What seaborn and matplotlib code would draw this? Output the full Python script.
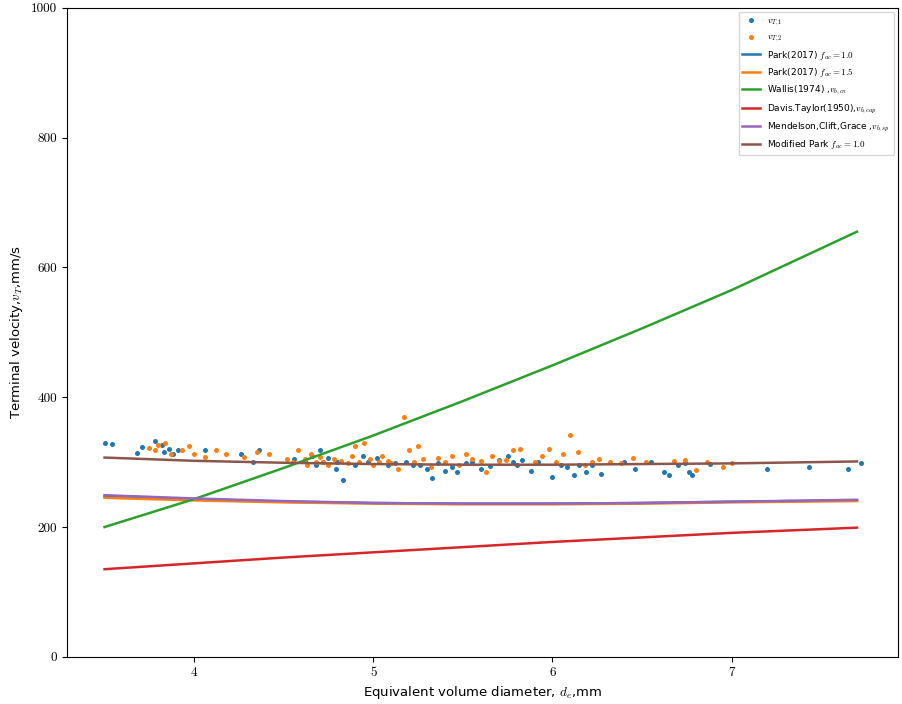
import numpy as np
import pandas as pd
import matplotlib
matplotlib.use("Agg")
import matplotlib.pyplot as plt
import seaborn as sns

d_v1 = [3.50, 3.54, 3.68, 3.71, 3.78, 3.82, 3.83, 3.86, 3.88, 3.91, 4.06, 4.26, 4.33, 4.36,
        4.56, 4.62, 4.66, 4.68, 4.70, 4.72, 4.75, 4.79, 4.80, 4.83, 4.90, 4.94, 4.97, 5.02,
        5.08, 5.12, 5.18, 5.22, 5.26, 5.30, 5.33, 5.36, 5.40, 5.44, 5.47, 5.52, 5.55, 5.60,
        5.65, 5.70, 5.75, 5.78, 5.80, 5.83, 5.88, 5.92, 6.00, 6.05, 6.08, 6.12, 6.15, 6.19,
        6.22, 6.27, 6.40, 6.46, 6.55, 6.62, 6.65, 6.70, 6.74, 6.76, 6.78, 6.88, 7.20, 7.43,
        7.65, 7.72]
v_t1 = [330, 328, 314, 323, 332, 326, 316, 320, 313, 318, 318, 312, 300, 318,
        305, 302, 310, 296, 318, 300, 306, 290, 300, 272, 295, 310, 300, 306,
        295, 298, 300, 295, 296, 290, 275, 298, 286, 292, 284, 298, 300, 290,
        294, 304, 310, 300, 296, 304, 286, 300, 277, 296, 292, 280, 296, 285,
        295, 282, 300, 290, 300, 285, 280, 295, 298, 285, 280, 297, 290, 292,
        290, 298]

d_v2 = [3.75, 3.78, 3.80, 3.84, 3.87, 3.93, 3.97, 4.00, 4.06, 4.12, 4.18, 4.28, 4.35, 4.42,
        4.52, 4.55, 4.58, 4.62, 4.63, 4.65, 4.68, 4.70, 4.72, 4.75, 4.78, 4.82, 4.86, 4.88,
        4.90, 4.92, 4.95, 4.98, 5.00, 5.03, 5.05, 5.08, 5.10, 5.14, 5.17, 5.20, 5.23, 5.25,
        5.28, 5.32, 5.36, 5.40, 5.44, 5.48, 5.52, 5.55, 5.60, 5.63, 5.66, 5.70, 5.74, 5.78,
        5.82, 5.90, 5.94, 5.98, 6.02, 6.06, 6.10, 6.14, 6.18, 6.22, 6.26, 6.32, 6.38, 6.45,
        6.52, 6.68, 6.74, 6.80, 6.86, 6.95, 7.00]
v_t2 = [322, 318, 326, 330, 313, 318, 325, 312, 308, 318, 312, 308, 316, 312,
        305, 300, 318, 305, 295, 312, 300, 308, 300, 295, 305, 302, 298, 310,
        325, 300, 330, 305, 295, 300, 310, 302, 298, 290, 370, 318, 300, 325,
        305, 292, 306, 300, 310, 295, 312, 305, 302, 285, 310, 302, 304, 318,
        320, 300, 310, 320, 300, 312, 342, 315, 296, 300, 305, 300, 298, 306,
        300, 302, 304, 288, 300, 292, 298]

# model curves
d_model = [3.5, 4.0, 4.5, 5.0, 5.5, 6.0, 6.5, 7.0, 7.7]
park_10 = [248, 243, 239, 237, 236, 236, 237, 239, 241]
park_15 = [245, 241, 238, 236, 235, 235, 236, 238, 240]
wallis = [200, 243, 291, 341, 394, 449, 506, 565, 655]
davis_taylor = [135, 144, 153, 161, 169, 177, 184, 191, 199]
mendelson = [249, 244, 240, 237, 236, 236, 237, 239, 242]
modified_park = [307, 302, 299, 297, 296, 296, 297, 298, 301]

plt.rcParams['mathtext.fontset'] = 'cm'

fig = plt.figure(figsize=(9.02, 7.04), dpi=100)
ax = fig.add_axes([0.074, 0.067, 0.922, 0.922])

pal = sns.color_palette('tab10')

sns.scatterplot(x=d_v1, y=v_t1, ax=ax, color=pal[0], s=13, linewidth=0,
                label=r'$v_{T,1}$')
sns.scatterplot(x=d_v2, y=v_t2, ax=ax, color=pal[1], s=13, linewidth=0,
                label=r'$v_{T,2}$')

curves = [
    (park_10, r'Park(2017) $f_{ac}=1.0$'),
    (park_15, r'Park(2017) $f_{ac}=1.5$'),
    (wallis, r'Wallis(1974) ,$v_{b,cn}$'),
    (davis_taylor, r'Davis.Taylor(1950),$v_{b,cap}$'),
    (mendelson, r'Mendelson,Clift,Grace ,$v_{b,sp}$'),
    (modified_park, r'Modified Park $f_{ac}=1.0$'),
]
for i, (vals, lab) in enumerate(curves):
    sns.lineplot(x=d_model, y=vals, ax=ax, color=pal[i], linewidth=1.8, label=lab)

ax.set_ylim(0, 1000)
ax.set_xticks([4, 5, 6, 7])
ax.set_yticks([0, 200, 400, 600, 800, 1000])
for t in ax.get_xticklabels() + ax.get_yticklabels():
    t.set_fontfamily('cmr10')
    t.set_fontsize(9.5)
ax.set_xlabel(r'Equivalent volume diameter, $d_e$,mm', fontsize=9.5)
ax.set_ylabel(r'Terminal velocity,$v_T$,mm/s', fontsize=9.5)
ax.legend(loc='upper right', fontsize=6.5, markerscale=1.0)

fig.savefig('out.png', dpi=100)
